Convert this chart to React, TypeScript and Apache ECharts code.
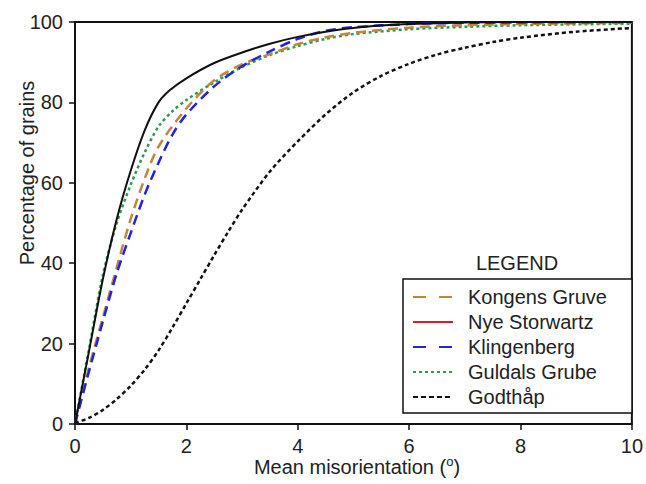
import React, { useEffect, useRef } from "react";
import * as echarts from "echarts";

const xTicks = [0, 2, 4, 6, 8, 10];
const yTicks = [0, 20, 40, 60, 80, 100];

const kongensX = [0, 0.25, 0.5, 0.75, 1, 1.25, 1.5, 2, 2.5, 3, 3.5, 4, 4.5, 5, 6, 7, 8, 10];
const kongensY = [0, 14, 26.5, 39, 51, 61, 69, 78.5, 85.5, 89.5, 92, 94.5, 96.2, 97.3, 98.6, 99.2, 99.5, 99.8];

const nyeX = [0, 0.25, 0.5, 0.75, 1, 1.25, 1.5, 1.7, 2, 2.5, 3, 3.5, 4, 4.5, 5, 5.5, 6, 7, 8, 10];
const nyeY = [0, 18, 36, 51, 63, 73, 80, 83, 86, 89.8, 92.4, 94.6, 96.3, 97.6, 98.5, 99.1, 99.5, 99.9, 100, 100];

const klingX = [0, 0.25, 0.5, 0.75, 1, 1.25, 1.5, 1.75, 2, 2.5, 3, 3.5, 4, 4.5, 5, 6, 7, 10];
const klingY = [0, 13, 25.5, 37.5, 47.5, 57, 65, 72, 77, 84, 89, 92.7, 95.8, 97.8, 98.7, 99.5, 99.8, 100];

const guldalsX = [0, 0.25, 0.5, 0.75, 1, 1.25, 1.5, 1.75, 2, 2.5, 3, 3.5, 4, 4.5, 5, 6, 7, 8, 10];
const guldalsY = [0, 18.5, 37, 50, 59.5, 67.5, 74, 77.8, 80.6, 85, 88.8, 91.8, 94, 95.8, 97, 98.2, 98.8, 99.2, 99.6];

const godthapX = [0, 0.25, 0.5, 0.75, 1, 1.25, 1.5, 1.75, 2, 2.25, 2.5, 2.75, 3, 3.5, 4, 4.5, 5, 5.5, 6, 6.5, 7, 7.5, 8, 9, 10];
const godthapY = [0.3, 1.5, 3.5, 6.2, 9.5, 13.5, 18.3, 24, 30, 36, 42, 47.8, 53.3, 62.8, 70.3, 77, 82.5, 86.6, 89.6, 91.9, 93.6, 95, 96.1, 97.6, 98.5];

const seriesNames = ["Kongens Gruve", "Nye Storwartz", "Klingenberg", "Guldals Grube", "Godthåp"];
const legendColors = ["#C0873A", "#E31A1C", "#2424DD", "#2E9A4E", "#111111"];
const legendDashes: (number[] | null)[] = [[13, 13], null, [13, 13], [3, 3], [5, 3]];

const zip = (xs: number[], ys: number[]) => xs.map((x, i) => [x, ys[i]]);

const FONT = "'Liberation Sans', Arial, Helvetica, sans-serif";

export default function App() {
  const ref = useRef<HTMLDivElement>(null);
  useEffect(() => {
    if (!ref.current) return;
    const chart = echarts.init(ref.current, undefined, { renderer: "svg" });
    const baseLine = {
      type: "line" as const,
      symbol: "none",
      smooth: 0.3,
    };

    const legendLeft = 403;
    const legendTop = 279;
    const legendRowGap = 25;
    const legendGraphics: any[] = [
      {
        type: "rect",
        shape: { x: legendLeft, y: legendTop, width: 229, height: 134 },
        style: { fill: "#fff", stroke: "#111", lineWidth: 1.5 },
        z: 100,
      },
      {
        type: "text",
        x: 517,
        y: 263,
        z: 100,
        style: { text: "LEGEND", font: `20px ${FONT}`, fill: "#222", align: "center", verticalAlign: "middle" },
      },
    ];
    seriesNames.forEach((name, i) => {
      const cy = 297 + i * legendRowGap;
      legendGraphics.push({
        type: "line",
        z: 101,
        shape: { x1: 413, y1: cy, x2: 453, y2: cy },
        style: {
          stroke: legendColors[i],
          lineWidth: 2,
          lineDash: legendDashes[i] || undefined,
        },
      });
      legendGraphics.push({
        type: "text",
        z: 101,
        x: 468,
        y: cy,
        style: { text: name, font: `20px ${FONT}`, fill: "#222", verticalAlign: "middle" },
      });
    });

    chart.setOption({
      animation: false,
      backgroundColor: "#fff",
      textStyle: { fontFamily: FONT },
      grid: {
        left: 75,
        right: 14,
        top: 22,
        bottom: 60,
        show: true,
        borderColor: "#111",
        borderWidth: 2,
      },
      xAxis: {
        type: "value",
        min: xTicks[0],
        max: xTicks[xTicks.length - 1],
        interval: xTicks[1] - xTicks[0],
        axisLine: { lineStyle: { color: "#111", width: 2 } },
        axisTick: { show: true, length: 6, lineStyle: { color: "#111", width: 1.5 } },
        axisLabel: { color: "#222", fontSize: 20, margin: 12, fontFamily: FONT },
        splitLine: { show: false },
      },
      yAxis: {
        type: "value",
        min: yTicks[0],
        max: yTicks[yTicks.length - 1],
        interval: yTicks[1] - yTicks[0],
        axisLine: { show: true, lineStyle: { color: "#111", width: 2 } },
        axisTick: { show: true, length: 6, lineStyle: { color: "#111", width: 1.5 } },
        axisLabel: { color: "#222", fontSize: 20, margin: 12, fontFamily: FONT },
        splitLine: { show: false },
      },
      graphic: [
        ...legendGraphics,
        {
          type: "text",
          x: 27,
          y: 173,
          rotation: Math.PI / 2,
          style: {
            text: "Percentage of grains",
            font: `20px ${FONT}`,
            fill: "#222",
            align: "center",
            verticalAlign: "middle",
          },
        },
        {
          type: "text",
          x: 357,
          y: 467,
          style: {
            text: "{n|Mean misorientation (}{s|o}{n|)}",
            align: "center",
            verticalAlign: "middle",
            fill: "#222",
            rich: {
              n: { fontSize: 20, fontFamily: FONT, color: "#222", lineHeight: 24, verticalAlign: "middle" },
              s: { fontSize: 13, fontFamily: FONT, color: "#222", lineHeight: 24, verticalAlign: "top", padding: [0, 0, 6, 0] },
            },
          },
        },
      ],
      series: [
        {
          ...baseLine,
          name: seriesNames[3],
          data: zip(guldalsX, guldalsY),
          lineStyle: { color: "#2E9A4E", width: 2.5, type: [3, 3] },
          z: 2,
        },
        {
          ...baseLine,
          name: seriesNames[0],
          data: zip(kongensX, kongensY),
          lineStyle: { color: "#C0873A", width: 2.5, type: [10, 6] },
          z: 3,
        },
        {
          ...baseLine,
          name: seriesNames[2],
          data: zip(klingX, klingY),
          lineStyle: { color: "#2424DD", width: 2.5, type: [10, 6] },
          z: 4,
        },
        {
          ...baseLine,
          name: seriesNames[1],
          data: zip(nyeX, nyeY),
          lineStyle: { color: "#111", width: 2, type: "solid" },
          z: 5,
        },
        {
          ...baseLine,
          name: seriesNames[4],
          data: zip(godthapX, godthapY),
          lineStyle: { color: "#111", width: 2.5, type: [4, 3] },
          z: 5,
        },
      ],
    });
    return () => chart.dispose();
  }, []);
  return <div ref={ref} style={{ width: 646, height: 484, position: "absolute", left: 0, top: 0 }} />;
}
